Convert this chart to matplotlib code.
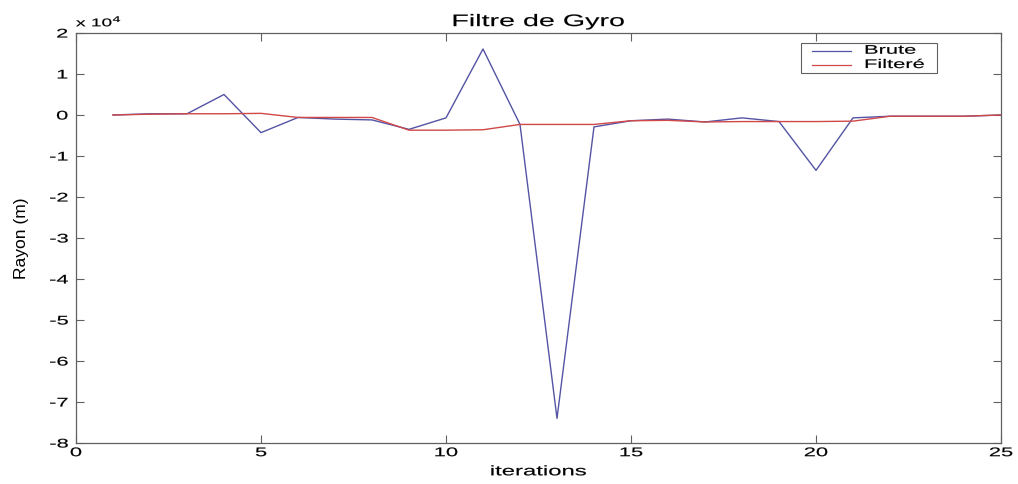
import matplotlib
matplotlib.use("Agg")
import matplotlib.pyplot as plt
from matplotlib.ticker import FixedLocator
from matplotlib.patheffects import AbstractPathEffect
from matplotlib.transforms import Affine2D
from matplotlib.patches import Rectangle
from matplotlib.lines import Line2D

iterations = list(range(1, 26))
brute = [0, 300, 300, 5000, -4300, -600, -1000, -1200, -3500, -700,
         16100, -2300, -74000, -2900, -1400, -1000, -1700, -700, -1600, -13500,
         -700, -300, -300, -300, 0]
filtre = [0, 200, 300, 300, 400, -600, -600, -600, -3700, -3700,
          -3600, -2300, -2300, -2300, -1400, -1300, -1700, -1600, -1600, -1600,
          -1500, -300, -300, -300, 0]

series_names = ['Brute', 'Filteré']
series_colors = ['#5454a4', '#d04848']
x_ticks = [0, 5, 10, 15, 20, 25]
y_ticks = [2, 1, 0, -1, -2, -3, -4, -5, -6, -7, -8]
scale = 1e4

plt.rcParams['font.family'] = ['Liberation Sans', 'DejaVu Sans']

W, H = 1018, 484
SX = 1.72  # horizontal widening of the printed text


class HStretch(AbstractPathEffect):
    """Widen glyphs horizontally around the text's anchor point."""

    def __init__(self, text, sx, stroke=0.12):
        super().__init__()
        self.text = text
        self.sx = sx
        self.stroke = stroke

    def draw_path(self, renderer, gc, tpath, affine, rgbFace=None):
        x0, _ = self.text.get_transform().transform(self.text.get_unitless_position())
        aff = affine + Affine2D().translate(-x0, 0).scale(self.sx, 1).translate(x0, 0)
        gc0 = renderer.new_gc()
        gc0.copy_properties(gc)
        if rgbFace is not None:
            gc0.set_foreground(rgbFace)
        gc0.set_linewidth(self.stroke)
        renderer.draw_path(gc0, tpath, aff, rgbFace)
        gc0.restore()


def widen(t, sx=SX):
    t.set_path_effects([HStretch(t, sx)])
    return t


def fx(px):
    return px / W


def fy(py):
    return 1 - py / H


fig = plt.figure(figsize=(W / 100, H / 100), dpi=100)
ax = fig.add_axes([fx(76), fy(443), fx(1001) - fx(76), fy(33) - fy(443)])

for vals, name, col in zip([brute, filtre], series_names, series_colors):
    ax.plot(iterations, [v / scale for v in vals], color=col, lw=1.0, label=name)

ax.set_xlim(0, 25)
ax.set_ylim(-8, 2)
ax.xaxis.set_major_locator(FixedLocator(x_ticks))
ax.yaxis.set_major_locator(FixedLocator(y_ticks))
ax.set_xticklabels([str(t) for t in x_ticks])
ax.set_yticklabels([str(t) for t in y_ticks])
ax.tick_params(direction='in', top=True, right=True, length=6, width=0.8,
               color='#606060', labelsize=9)
ax.tick_params(axis='x', pad=3)
ax.tick_params(axis='y', pad=5.5)
for s in ax.spines.values():
    s.set_color('#606060')
    s.set_linewidth(0.9)

widen(ax.text(0.0, 1.008, r'x 10$^4$', transform=ax.transAxes, fontsize=8,
              ha='left', va='bottom'))
widen(ax.set_title('Filtre de Gyro', fontsize=12, pad=5))
widen(ax.set_xlabel('iterations', fontsize=10))
ax.xaxis.set_label_coords(0.5, -0.052)
ax.set_ylabel('Rayon (m)', fontsize=12.5)
ax.yaxis.set_label_coords(-0.051, 0.5)

# Legend box drawn in figure coordinates
fig.add_artist(Rectangle((fx(801), fy(73)), fx(937) - fx(801), fy(43) - fy(73),
                         transform=fig.transFigure, facecolor='white',
                         edgecolor='#606060', lw=0.8, zorder=5))
for i, (name, col) in enumerate(zip(series_names, series_colors)):
    yy = fy(50.7 + i * 14.3)
    fig.add_artist(Line2D([fx(812), fx(851)], [yy, yy], color=col, lw=0.9,
                          transform=fig.transFigure, zorder=6))
    widen(fig.text(fx(864), yy, name, fontsize=9, ha='left', va='center',
                   zorder=6), 1.75)

fig.canvas.draw()
for lab in ax.get_xticklabels() + ax.get_yticklabels():
    widen(lab, 1.75)

fig.savefig('out.png', dpi=100)
